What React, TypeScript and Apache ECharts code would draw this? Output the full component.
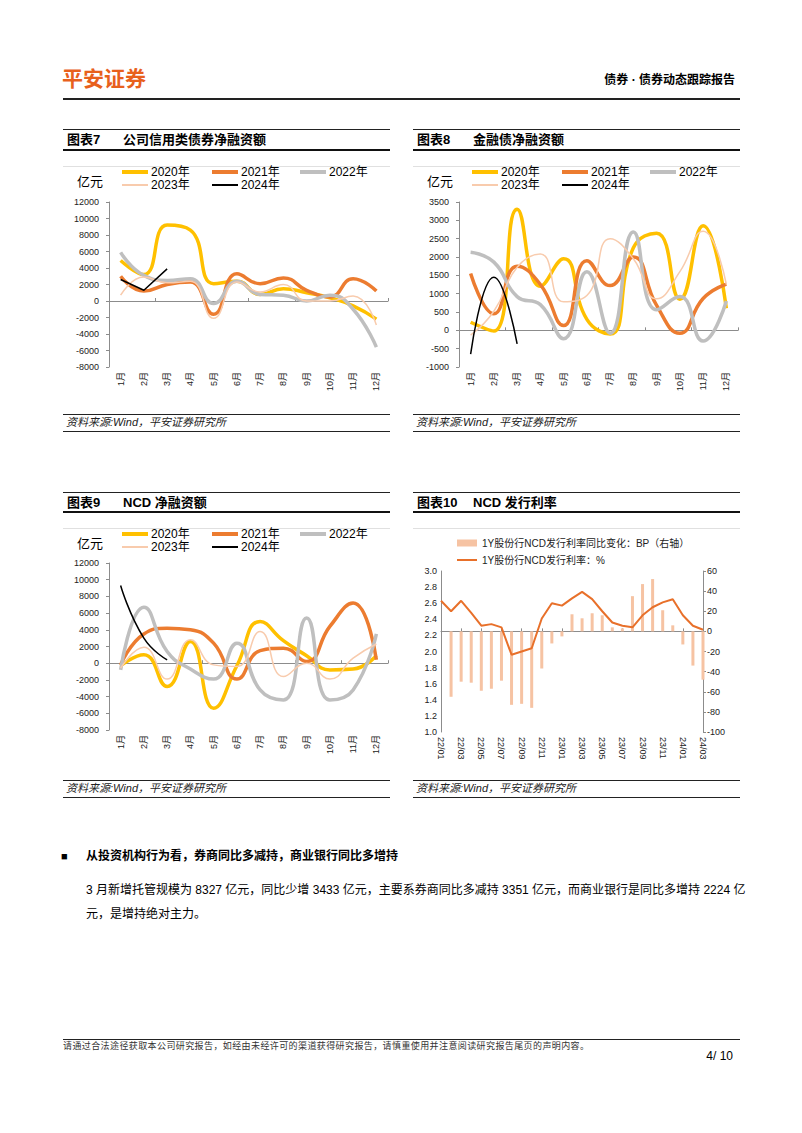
import React, { useEffect, useRef } from 'react';
import * as echarts from 'echarts';

const FONT = '"Liberation Sans", Arial, "Noto Sans CJK SC", sans-serif';

const months = ['1月', '2月', '3月', '4月', '5月', '6月', '7月', '8月', '9月', '10月', '11月', '12月'];
const years = ['2020年', '2021年', '2022年', '2023年', '2024年'];

// 图表7 公司信用类债券净融资额 (亿元)
const credit2020 = [4900, 3200, 9200, 8600, 2100, 2400, 800, 1500, 1000, 400, -600, -2200];
const credit2021 = [3000, 1200, 2000, 2300, -1600, 3300, 2100, 2800, 1300, 500, 2700, 1200];
const credit2022 = [5900, 3100, 2500, 2700, -300, 2400, 800, 700, 0, 700, -1000, -5600];
const credit2023 = [700, 2900, 2200, 2400, -2100, 2300, 1100, 2000, 0, 0, 600, -2900];
const credit2024 = [2600, 1300, 3900];

// 图表8 金融债净融资额 (亿元)
const fin2020 = [220, -20, 3300, 1200, 1950, 300, -100, 2250, 2650, 850, 2850, 600];
const fin2021 = [1550, 450, 1750, 1250, 130, 1900, 1220, 2000, 680, -80, 870, 1260];
const fin2022 = [2130, 1860, 920, 700, -230, 1600, -80, 2680, 560, 920, -290, 800];
const fin2023 = [-130, 520, 1720, 2080, 780, 950, 2500, 1950, 860, 1600, 2700, 1250];
const fin2024 = [-650, 1450, -370];

// 图表9 NCD 净融资额 (亿元)
const ncd2020 = [-300, 1000, -2800, 2600, -5400, -300, 5000, 2700, 900, -800, -700, 900];
const ncd2021 = [-200, 3500, 4200, 4000, 2400, -1900, 1500, 1800, 200, 4400, 7200, 400];
const ncd2022 = [-800, 6700, 1400, -700, -1900, 2400, -3200, -4400, 5400, -4400, -3200, 3500];
const ncd2023 = [-600, 1900, -1900, 2800, -200, -400, 3800, -1600, 0, -1900, 600, 2300];
const ncd2024 = [9300, 3000, 400];

// 图表10 NCD 发行利率
const rateDates = ['22/01', '22/02', '22/03', '22/04', '22/05', '22/06', '22/07', '22/08', '22/09', '22/10', '22/11', '22/12',
  '23/01', '23/02', '23/03', '23/04', '23/05', '23/06', '23/07', '23/08', '23/09', '23/10', '23/11', '23/12',
  '24/01', '24/02', '24/03'];
const rateValues = [2.63, 2.50, 2.63, 2.48, 2.32, 2.34, 2.30, 1.96, 2.00, 2.04, 2.41, 2.60,
  2.57, 2.66, 2.74, 2.65, 2.50, 2.36, 2.32, 2.30, 2.45, 2.55, 2.61, 2.65,
  2.45, 2.32, 2.27];
const rateYoY = [null, -65, -50, -51, -59, -57, -49, -73, -72, -76, -37, -12,
  -5, 17, 13, 18, 16, 4, 3, 35, 47, 52, 21, 6,
  -13, -34, -48];
const barName = '1Y股份行NCD发行利率同比变化：BP（右轴）';
const lineName = '1Y股份行NCD发行利率：%';

const yearColors = ['#FFC000', '#EC7C30', '#BFBFBF', '#F8CBAD', '#000000'];
const yearWidths = [3.5, 3.5, 3.5, 1.5, 1.5];

function monthlyOption(
  data: number[][], yMin: number, yMax: number, yInt: number,
  gridTop: number, gridHeight: number, legendTop: number, unitY: number, smooth2024: boolean
): any {
  const legendPos = [[59, 0], [149, 0], [237, 0], [59, 1], [149, 1]];
  return {
    animation: false,
    textStyle: { fontFamily: FONT },
    grid: { left: 46, top: gridTop, width: 279, height: gridHeight },
    legend: years.map((name, i) => ({
      data: [{ name, icon: 'rect' }],
      left: legendPos[i][0],
      top: legendTop + legendPos[i][1] * 13,
      padding: 0,
      itemWidth: 26,
      itemHeight: Math.round(yearWidths[i] + 0.5),
      selectedMode: false,
      textStyle: { fontSize: 12, color: '#000', fontFamily: FONT, lineHeight: 12, padding: [0, 0, 0, -2] },
    })),
    graphic: [{
      type: 'text', left: 14, top: unitY - 8,
      style: { text: '亿元', fontSize: 13, fill: '#000', fontFamily: FONT },
    }],
    xAxis: [
      {
        type: 'category', data: months, boundaryGap: true, position: 'bottom',
        axisLine: { show: false, onZero: false }, axisTick: { show: false },
        axisLabel: { rotate: 90, fontSize: 9, color: '#222', margin: 5, interval: 0, fontFamily: FONT },
      },
      {
        type: 'category', data: months, boundaryGap: true, position: 'bottom',
        axisLine: { show: true, onZero: true, lineStyle: { color: '#8c8c8c', width: 1 } },
        axisTick: { show: true, inside: true, length: 3, lineStyle: { color: '#8c8c8c' } },
        axisLabel: { show: false },
      },
    ],
    yAxis: {
      type: 'value', min: yMin, max: yMax, interval: yInt,
      axisLine: { show: true, lineStyle: { color: '#8c8c8c' } },
      axisTick: { show: true, length: 3, lineStyle: { color: '#8c8c8c' } },
      splitLine: { show: false },
      axisLabel: { fontSize: 9, color: '#222', margin: 10, fontFamily: FONT, formatter: (v: number) => String(v) },
    },
    series: data.map((d, i) => ({
      name: years[i], type: 'line', data: d, symbol: 'none', showSymbol: false,
      smooth: i === 4 ? (smooth2024 ? 0.5 : false) : 0.5,
      xAxisIndex: 0, yAxisIndex: 0, z: 2 + i,
      lineStyle: { color: yearColors[i], width: yearWidths[i] },
      itemStyle: { color: yearColors[i] },
    })),
  };
}

function rateOption(): any {
  return {
    animation: false,
    textStyle: { fontFamily: FONT },
    grid: { left: 28, top: 51, width: 262, height: 161 },
    legend: [
      {
        data: [{ name: barName, icon: 'rect' }], left: 44, top: 17, padding: 0,
        itemWidth: 20, itemHeight: 7, selectedMode: false,
        textStyle: { fontSize: 10, color: '#222', fontFamily: FONT, lineHeight: 12 },
      },
      {
        data: [{ name: lineName, icon: 'rect' }], left: 44, top: 34, padding: 0,
        itemWidth: 20, itemHeight: 2, selectedMode: false,
        textStyle: { fontSize: 10, color: '#222', fontFamily: FONT, lineHeight: 12 },
      },
    ],
    xAxis: {
      type: 'category', data: rateDates, boundaryGap: false,
      axisLine: { lineStyle: { color: '#8c8c8c' } },
      axisTick: { inside: true, length: 3, interval: 1, lineStyle: { color: '#8c8c8c' } },
      axisLabel: { rotate: -90, interval: 1, fontSize: 9, color: '#222', margin: 5, fontFamily: FONT },
    },
    yAxis: [
      {
        type: 'value', min: 1.0, max: 3.0, interval: 0.2,
        axisLine: { show: true, lineStyle: { color: '#8c8c8c' } },
        axisTick: { show: false },
        splitLine: { show: false },
        axisLabel: { fontSize: 9, color: '#222', margin: 4, fontFamily: FONT, formatter: (v: number) => v.toFixed(1) },
      },
      {
        type: 'value', min: -100, max: 60, interval: 20, position: 'right',
        axisLine: { show: true, lineStyle: { color: '#8c8c8c' } },
        axisTick: { show: true, length: 3, lineStyle: { color: '#8c8c8c' } },
        splitLine: { show: false },
        axisLabel: { fontSize: 9, color: '#222', margin: 4, fontFamily: FONT, formatter: (v: number) => String(v) },
      },
    ],
    series: [
      {
        name: barName, type: 'bar', yAxisIndex: 1, data: rateYoY, barWidth: 3,
        itemStyle: { color: '#F6C3A3' },
      },
      {
        name: lineName, type: 'line', yAxisIndex: 0, data: rateValues, symbol: 'none', showSymbol: false,
        lineStyle: { color: '#E8702A', width: 2 }, itemStyle: { color: '#E8702A' },
      },
    ],
  };
}

type TProps = {
  x: number; y: number; size: number; children: React.ReactNode;
  bold?: boolean; italic?: boolean; color?: string; right?: boolean; ls?: number;
};
const T = ({ x, y, size, children, bold, italic, color, right, ls }: TProps) => {
  const lh = Math.round(size * 1.4);
  const style: React.CSSProperties = {
    position: 'absolute', top: y - lh / 2, lineHeight: `${lh}px`, fontSize: size,
    whiteSpace: 'nowrap', fontWeight: bold ? 700 : 400, fontStyle: italic ? 'italic' : 'normal',
    color: color || '#000', letterSpacing: ls ? `${ls}px` : undefined,
  };
  if (right) { style.right = 802 - x; } else { style.left = x; }
  return <div style={style}>{children}</div>;
};

const HLine = ({ x, y, w, h, c }: { x: number; y: number; w: number; h: number; c: string }) => (
  <div style={{ position: 'absolute', left: x, top: y, width: w, height: h, background: c }} />
);

const ChartFrame = ({ x0, top, titleY, underY, grayY, srcTopY, srcY, srcBotY, num, title }: any) => (
  <>
    <HLine x={x0} y={top} w={327} h={1} c="#222" />
    <T x={x0 + 4} y={titleY} size={13} bold>{num}</T>
    <T x={x0 + 60} y={titleY} size={13} bold>{title}</T>
    <HLine x={x0} y={underY} w={327} h={1.5} c="#111" />
    <HLine x={x0} y={grayY} w={327} h={1} c="#e0e0e0" />
    <HLine x={x0} y={srcTopY} w={327} h={1} c="#222" />
    <T x={x0 + 3} y={srcY} size={11} italic color="#222">资料来源:Wind，平安证券研究所</T>
    <HLine x={x0} y={srcBotY} w={327} h={1} c="#222" />
  </>
);

export default function App() {
  const r7 = useRef<HTMLDivElement>(null);
  const r8 = useRef<HTMLDivElement>(null);
  const r9 = useRef<HTMLDivElement>(null);
  const r10 = useRef<HTMLDivElement>(null);

  useEffect(() => {
    const c7 = echarts.init(r7.current!, undefined, { renderer: 'svg' });
    const c8 = echarts.init(r8.current!, undefined, { renderer: 'svg' });
    const c9 = echarts.init(r9.current!, undefined, { renderer: 'svg' });
    const c10 = echarts.init(r10.current!, undefined, { renderer: 'svg' });
    c7.setOption(monthlyOption([credit2020, credit2021, credit2022, credit2023, credit2024], -8000, 12000, 2000, 47, 165, 11, 28, false));
    c8.setOption(monthlyOption([fin2020, fin2021, fin2022, fin2023, fin2024], -1000, 3500, 500, 47, 165, 11, 28, true));
    c9.setOption(monthlyOption([ncd2020, ncd2021, ncd2022, ncd2023, ncd2024], -8000, 12000, 2000, 45, 167, 10, 27, true));
    c10.setOption(rateOption());
    return () => { c7.dispose(); c8.dispose(); c9.dispose(); c10.dispose(); };
  }, []);

  return (
    <div style={{ position: 'absolute', left: 0, top: 0, width: 802, height: 1133, background: '#fff', fontFamily: FONT, overflow: 'hidden' }}>
      <T x={62} y={78} size={21} bold color="#E8601C">平安证券</T>
      <T x={735} y={80} size={12} bold right>债券 · 债券动态跟踪报告</T>
      <HLine x={63} y={98} w={677} h={1.5} c="#222" />

      <ChartFrame x0={63} top={129} titleY={140} underY={149} grayY={166} srcTopY={414} srcY={422.5} srcBotY={431} num="图表7" title="公司信用类债券净融资额" />
      <ChartFrame x0={413} top={129} titleY={140} underY={149} grayY={166} srcTopY={414} srcY={422.5} srcBotY={431} num="图表8" title="金融债净融资额" />
      <ChartFrame x0={63} top={492} titleY={503} underY={511} grayY={528} srcTopY={780} srcY={788.5} srcBotY={797} num="图表9" title="NCD 净融资额" />
      <ChartFrame x0={413} top={492} titleY={503} underY={511} grayY={528} srcTopY={780} srcY={788.5} srcBotY={797} num="图表10" title="NCD 发行利率" />

      <div ref={r7} style={{ position: 'absolute', left: 63, top: 155, width: 327, height: 255 }} />
      <div ref={r8} style={{ position: 'absolute', left: 413, top: 155, width: 327, height: 255 }} />
      <div ref={r9} style={{ position: 'absolute', left: 63, top: 518, width: 327, height: 258 }} />
      <div ref={r10} style={{ position: 'absolute', left: 413, top: 520, width: 327, height: 256 }} />

      <T x={61} y={856} size={11}>■</T>
      <T x={86} y={856} size={12} bold>从投资机构行为看，券商同比多减持，商业银行同比多增持</T>
      <T x={86} y={890} size={12}>3 月新增托管规模为 8327 亿元，同比少增 3433 亿元，主要系券商同比多减持 3351 亿元，而商业银行是同比多增持 2224 亿</T>
      <T x={86} y={914} size={12}>元，是增持绝对主力。</T>

      <HLine x={63} y={1039} w={677} h={1} c="#222" />
      <T x={63} y={1046} size={9} color="#333" ls={0.4}>请通过合法途径获取本公司研究报告，如经由未经许可的渠道获得研究报告，请慎重使用并注意阅读研究报告尾页的声明内容。</T>
      <T x={733} y={1056} size={12} right>4/ 10</T>
    </div>
  );
}
